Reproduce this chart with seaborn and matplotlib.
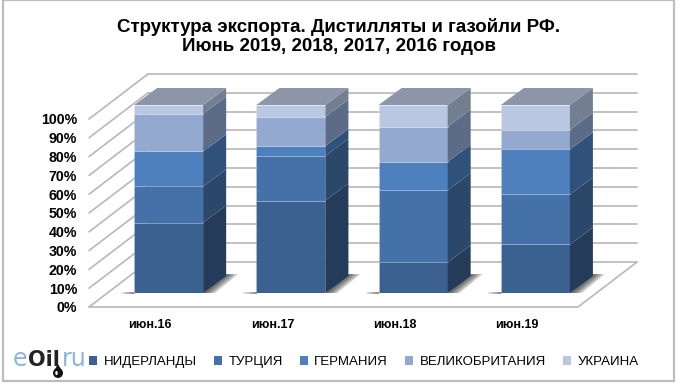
import numpy as np
import pandas as pd
import seaborn as sns
from matplotlib import pyplot as plt
from matplotlib.patches import Polygon, Rectangle, Patch, Ellipse

months = ['июн.16', 'июн.17', 'июн.18', 'июн.19']
countries = ['НИДЕРЛАНДЫ', 'ТУРЦИЯ', 'ГЕРМАНИЯ', 'ВЕЛИКОБРИТАНИЯ', 'УКРАИНА']

netherlands = [37.5, 49.2, 16.3, 25.8]
turkey = [19.2, 23.8, 38.4, 26.6]
germany = [18.6, 5.2, 15.1, 24.0]
britain = [20.1, 15.6, 18.7, 10.5]
ukraine = [4.6, 6.2, 11.5, 13.1]

front_colors = ['#3a6190', '#4472a8', '#4d80bd', '#93a9d0', '#b9c7e2']
side_colors = ['#243b5a', '#2b4769', '#30527a', '#5c6c87', '#737e90']
top_color = '#8d96a9'
grid_color = '#b8b8b8'

W, H = 680, 385

df = pd.DataFrame({'month': months, 'НИДЕРЛАНДЫ': netherlands, 'ТУРЦИЯ': turkey,
                   'ГЕРМАНИЯ': germany, 'ВЕЛИКОБРИТАНИЯ': britain, 'УКРАИНА': ukraine})

sns.set_style('white')
plt.rcParams['font.family'] = ['Liberation Sans', 'DejaVu Sans']
plt.rcParams['text.color'] = 'black'
plt.rcParams['xtick.color'] = 'black'
plt.rcParams['ytick.color'] = 'black'

fig = plt.figure(figsize=(W / 100, H / 100), dpi=100)


def rect(x0, y_bottom, x1, y_top):
    # pixel box (image coordinates) to figure fraction
    return [x0 / W, 1 - y_bottom / H, (x1 - x0) / W, (y_bottom - y_top) / H]


# frame around the chart
fig.add_artist(Rectangle((3 / W, 1 - 381 / H), 671 / W, 381 / H, transform=fig.transFigure,
                         fc='white', ec='#bdbdbd', lw=1.6, zorder=-1))

# ============================================================
# FRONT PLANE OF THE BOX - tick labels, floor and walls
# ============================================================
ax = fig.add_axes(rect(89, 307, 578, 119))
ax.patch.set_alpha(0)
ax.set_xlim(-0.5, 3.5)
ax.set_ylim(0, 100)
ux = 4 / 489   # x units per pixel
uy = 100 / 188  # y units per pixel
wall_dx, wall_dy = 59 * ux, 45 * uy

ticks = list(range(0, 101, 10))
for t in ticks:
    ax.plot([-0.5, -0.5 + wall_dx], [t, t + wall_dy], color=grid_color, lw=1.2, clip_on=False)
    ax.plot([-0.5 + wall_dx, 3.5 + wall_dx], [t + wall_dy, t + wall_dy], color=grid_color, lw=1.2, clip_on=False)
ax.plot([-0.5, 3.5, 3.5 + wall_dx], [0, 0, wall_dy], color=grid_color, lw=1.2, clip_on=False)

ax.set_xticks(range(4))
ax.set_xticklabels(months, fontsize=9, fontweight='bold')
ax.set_yticks(ticks)
ax.set_yticklabels([f'{t}%' for t in ticks], fontsize=10.2, fontweight='bold')
ax.tick_params(axis='y', length=0, pad=8.5)
ax.tick_params(axis='x', length=0, pad=9)
sns.despine(ax=ax, left=True, bottom=True)

# ============================================================
# BARS - shifted into the box along the depth direction
# ============================================================
ax_bars = fig.add_axes(rect(107.5, 293, 596.5, 105))
ax_bars.patch.set_alpha(0)
ax_bars.set_axis_off()

depth_dx, depth_dy = 23 * ux, 17 * uy
bar_width = 0.565

# soft shadow on the floor, under the bars
for i in range(4):
    left, right = i - bar_width / 2, i + bar_width / 2
    for grow in [1.0, 0.8, 0.6, 0.4, 0.2]:
        reach = grow * 12 * ux
        ax_bars.add_patch(Polygon([(right, 0), (right + reach, 0), (right + depth_dx + reach, depth_dy + 1),
                                   (right + depth_dx, depth_dy + 1)],
                                  fc='#202020', ec='none', alpha=0.2, zorder=1, clip_on=False))
        ax_bars.add_patch(Rectangle((left - grow * 13 * ux, -0.3), grow * 14 * ux, 1.0,
                                    fc='#202020', ec='none', alpha=0.12, zorder=1, clip_on=False))

bottom = np.zeros(4)
for c, country in enumerate(countries):
    vals = df[country].to_numpy()
    sns.barplot(data=df, x='month', y=country, color=front_colors[c], saturation=1, width=bar_width,
                bottom=bottom, ax=ax_bars, zorder=3, edgecolor='#ffffff30', linewidth=0.6)
    for i in range(4):
        x1 = i + bar_width / 2
        y0, y1 = bottom[i], bottom[i] + vals[i]
        ax_bars.add_patch(Polygon([(x1, y0), (x1 + depth_dx, y0 + depth_dy),
                                   (x1 + depth_dx, y1 + depth_dy), (x1, y1)],
                                  fc=side_colors[c], ec='none', zorder=3, clip_on=False))
    bottom = bottom + vals

for i in range(4):
    x0, x1 = i - bar_width / 2, i + bar_width / 2
    y1 = bottom[i]
    ax_bars.add_patch(Polygon([(x0, y1), (x1, y1), (x1 + depth_dx, y1 + depth_dy), (x0 + depth_dx, y1 + depth_dy)],
                              fc=top_color, ec='none', zorder=3, clip_on=False))

ax_bars.set_xlim(-0.5, 3.5)
ax_bars.set_ylim(0, 100)

# ============================================================
# TITLE, LEGEND, LOGO
# ============================================================
fig.text(339 / W, 1 - 36.5 / H, 'Структура экспорта. Дистилляты и газойли РФ.\nИюнь 2019, 2018, 2017, 2016 годов',
         ha='center', va='center', fontsize=13.5, fontweight='bold', linespacing=1.15)

handles = [Patch(fc=col, ec='none', label=name) for col, name in zip(front_colors, countries)]
fig.legend(handles=handles, loc='center left', bbox_to_anchor=(89 / W, 1 - 362 / H), ncol=5, frameon=False,
           handlelength=0.6, handleheight=0.6, handletextpad=0.5, columnspacing=1.3,
           borderpad=0, borderaxespad=0, prop={'size': 9.5})

logo_font = 'DejaVu Sans'
fig.text(13 / W, 1 - 366 / H, 'e', color='#8db4d8', fontsize=17, family=logo_font)
fig.text(28 / W, 1 - 366 / H, 'Oil', color='#222222', fontsize=15, fontweight='bold', family=logo_font)
fig.text(62 / W, 1 - 366 / H, 'ru', color='#8db4d8', fontsize=17, family=logo_font)

# little oil drop under the logo
fig.add_artist(Polygon([(54 / W, 1 - 371 / H), (58 / W, 1 - 364 / H), (62 / W, 1 - 371 / H)],
                       transform=fig.transFigure, fc='#111111', ec='none'))
fig.add_artist(Ellipse((58 / W, 1 - 373 / H), 10 / W, 10 / H, transform=fig.transFigure, fc='#111111', ec='none'))
fig.add_artist(Ellipse((56.5 / W, 1 - 373 / H), 2.5 / W, 4 / H, transform=fig.transFigure, fc='white', ec='none'))

plt.savefig('out.png', dpi=100)
